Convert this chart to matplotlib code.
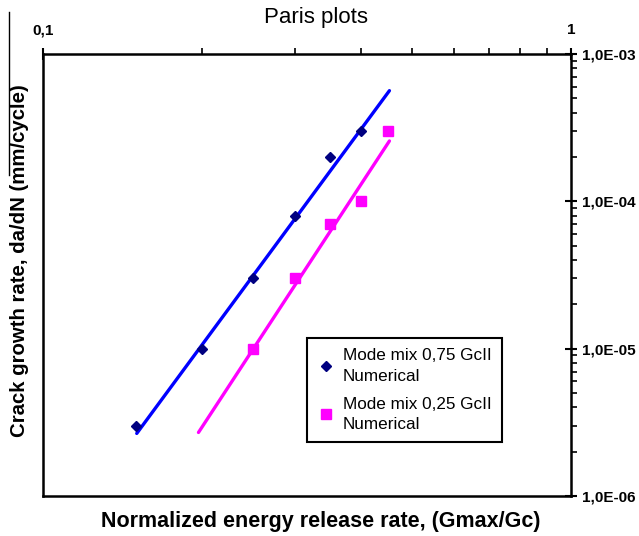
'''Paris plots - crack growth rate vs normalized energy release rate'''

import matplotlib
matplotlib.use('Agg')
import matplotlib.pyplot as plt
from matplotlib.lines import Line2D
from matplotlib import ticker

plt.rcParams['font.family'] = ['Liberation Sans', 'DejaVu Sans']

# Mode mix 0,75 GcII (numerical)
g_075 = [0.15, 0.20, 0.25, 0.30, 0.35, 0.40]
dadn_075 = [3e-6, 1e-5, 3e-5, 8e-5, 2e-4, 3e-4]
# Mode mix 0,25 GcII (numerical)
g_025 = [0.25, 0.30, 0.35, 0.40, 0.45]
dadn_025 = [1e-5, 3e-5, 7e-5, 1e-4, 3e-4]

# power-law trend lines (end points)
fit_g_075 = [0.1505, 0.453]
fit_dadn_075 = [2.66e-6, 5.64e-4]
fit_g_025 = [0.197, 0.453]
fit_dadn_025 = [2.7e-6, 2.57e-4]

x_ticks = [0.1, 1]
x_tick_labels = ['0,1', '1']
y_ticks = [1e-6, 1e-5, 1e-4, 1e-3]
y_tick_labels = ['1,0E-06', '1,0E-05', '1,0E-04', '1,0E-03']

fig = plt.figure(figsize=(6.39, 5.36), dpi=100)
ax = fig.add_axes([0.0673, 0.0746, 0.8263, 0.8246])

ax.plot(fit_g_075, fit_dadn_075, color='#0000ff', lw=2.4, solid_capstyle='round')
ax.plot(fit_g_025, fit_dadn_025, color='#ff00ff', lw=2.4, solid_capstyle='round')
ax.plot(g_075, dadn_075, 'D', color='#000080', ms=5.5, ls='none',
        label='Mode mix 0,75 GcII\nNumerical')
ax.plot(g_025, dadn_025, 's', color='#ff00ff', ms=6.5, ls='none',
        label='Mode mix 0,25 GcII\nNumerical')

ax.set_xscale('log')
ax.set_yscale('log')
ax.set_xlim(0.1, 1)
ax.set_ylim(1e-6, 1e-3)

# x axis on top, y axis on the right
ax.xaxis.set_ticks_position('top')
ax.yaxis.set_ticks_position('right')
ax.set_xticks(x_ticks)
ax.set_xticklabels(x_tick_labels, fontsize=11, fontweight='bold')
ax.set_yticks(y_ticks)
ax.set_yticklabels(y_tick_labels, fontsize=11, fontweight='bold')
ax.xaxis.set_minor_locator(ticker.LogLocator(subs=range(2, 10)))
ax.yaxis.set_minor_locator(ticker.LogLocator(subs=range(2, 10)))
ax.xaxis.set_minor_formatter(ticker.NullFormatter())
ax.yaxis.set_minor_formatter(ticker.NullFormatter())
ax.tick_params(axis='x', which='major', direction='inout', length=8, width=1.5, pad=8)
ax.tick_params(axis='x', which='minor', direction='out', length=4, width=1.2)
ax.tick_params(axis='y', which='major', direction='inout', length=8, width=1.5, pad=4)
ax.tick_params(axis='y', which='minor', direction='out', length=4, width=1.2)
for s in ax.spines.values():
    s.set_linewidth(1.8)

fig.text(316 / 639, 1 - 17 / 536, 'Paris plots', fontsize=16,
         ha='center', va='center')
fig.text(321 / 639, 1 - 521 / 536, 'Normalized energy release rate, (Gmax/Gc)',
         fontsize=15.5, fontweight='bold', ha='center', va='center')
fig.text(20 / 639, 1 - 261 / 536, 'Crack growth rate, da/dN (mm/cycle)',
         rotation=90, fontsize=14.7, fontweight='bold', ha='center', va='center')

# stray rule at the left edge of the original figure
fig.add_artist(Line2D([9 / 639, 9 / 639], [1 - 12 / 536, 1 - 175 / 536],
                      color='black', lw=1))

leg = ax.legend(loc='upper left', bbox_to_anchor=(0.5, 0.357), fontsize=12.3,
                fancybox=False, edgecolor='black', framealpha=1,
                handletextpad=0.5, handlelength=1.0, borderpad=0.6,
                labelspacing=0.75, borderaxespad=0)
for t in leg.get_texts():
    t.set_linespacing(1.45)
leg.get_frame().set_linewidth(1.5)

fig.savefig('out.png', dpi=100)
